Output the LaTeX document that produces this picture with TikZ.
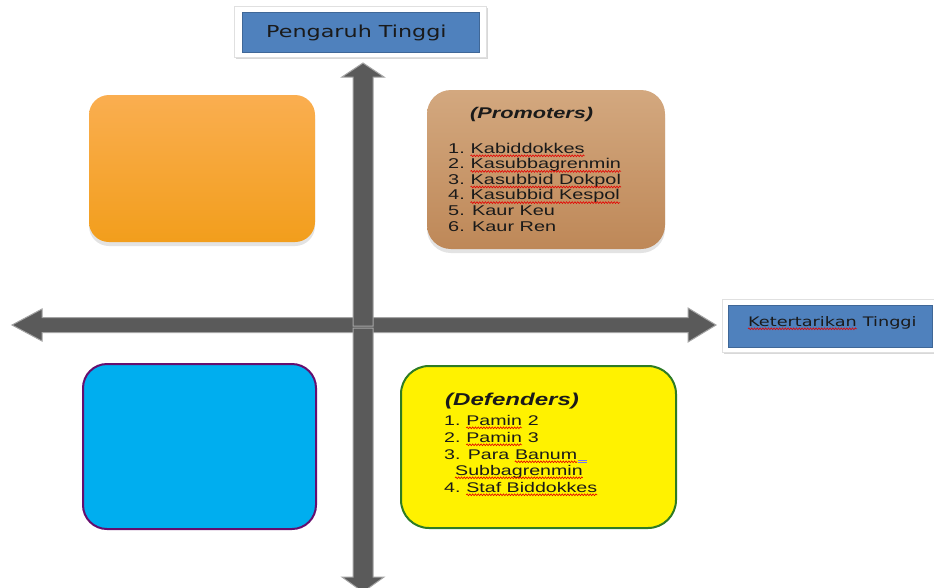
\documentclass[tikz,border=0pt]{standalone}
\usepackage{fontspec}
\usetikzlibrary{shadows,decorations.pathmorphing}
\newfontfamily\arialw[FakeStretch=1.4]{Liberation Sans}
\newfontfamily\verdw[FakeStretch=1.35]{DejaVu Sans}
\definecolor{arrowgray}{HTML}{5A5A5A}
\definecolor{labelblue}{HTML}{4F81BD}
\definecolor{orangetop}{HTML}{FAAE50}
\definecolor{orangebot}{HTML}{F29E1C}
\definecolor{tantop}{HTML}{D3A87F}
\definecolor{tanbot}{HTML}{BE8858}
\definecolor{cyanbox}{HTML}{00AEEF}
\definecolor{purpleedge}{HTML}{660E6E}
\definecolor{greenedge}{HTML}{2E7B24}
\definecolor{txt}{HTML}{1A1A1A}
\tikzset{
  axis/.style={fill=arrowgray, draw=arrowgray!55!white, line width=1pt, line join=miter},
  softshadow/.style={drop shadow={shadow xshift=0pt, shadow yshift=-4pt, opacity=0.22}},
  frameshadow/.style={drop shadow={shadow xshift=1.5pt, shadow yshift=-2pt, opacity=0.3}},
  lst/.style={anchor=base west, inner sep=0pt, text=txt, font=\arialw\fontsize{14.2}{16}\selectfont},
  lstd/.style={anchor=base west, inner sep=0pt, text=txt, font=\arialw\fontsize{14}{16}\selectfont},
  ttl/.style={anchor=base west, inner sep=0pt, text=txt, font=\arialw\bfseries\itshape\fontsize{15.5}{18}\selectfont},
  lbl/.style={anchor=base west, inner sep=0pt, text=txt, font=\verdw\fontsize{16.5}{18}\selectfont},
  wavy/.style={draw=red!90!black, line width=0.6pt, decorate, decoration={snake, amplitude=0.9pt, segment length=2.8pt}}
}
\newcommand\wavyunder[1]{\draw[wavy] ([yshift=-2.8pt]#1.base west) -- ([yshift=-2.8pt]#1.base east);}
\begin{document}
\begin{tikzpicture}[x=1pt,y=-1pt]
\useasboundingbox (0,0) rectangle (934,587);
\fill[white] (0,0) rectangle (934,587);

% horizontal axis (double headed)
\path[axis] (42,317.5) -- (688,317.5) -- (688,308) -- (716,325) -- (688,342) -- (688,332.5)
   -- (42,332.5) -- (42,341) -- (12,325) -- (42,309) -- cycle;
% vertical axis: up and down arrows
\path[axis] (353,326) -- (353,77) -- (342,77) -- (363,63) -- (384,77) -- (373,77) -- (373,326) -- cycle;
\path[axis] (353,328) -- (353,577) -- (342,577) -- (363,592) -- (384,577) -- (373,577) -- (373,328) -- cycle;

% label box: Pengaruh Tinggi
\path[fill=white, draw=black!12, frameshadow] (234,6) rectangle (486,57);
\path[fill=labelblue, draw=labelblue!80!black, line width=0.6pt] (242,12) rectangle (479,52);
\node[lbl] (pt) at (266,37) {Pengaruh Tinggi};

% label box: Ketertarikan Tinggi
\path[fill=white, draw=black!12, frameshadow] (722,299) rectangle (942,352);
\path[fill=labelblue, draw=labelblue!80!black, line width=0.6pt] (728,305) rectangle (932,347);
\node[lbl, font=\verdw\fontsize{13.1}{16}\selectfont] (kt1) at (748,326) {Ketertarikan};
\node[lbl, font=\verdw\fontsize{13.1}{16}\selectfont] (kt2) at (kt1.base east) {\ Tinggi};
\wavyunder{kt1}

% quadrant boxes
\path[rounded corners=20pt, top color=orangetop, bottom color=orangebot, softshadow] (89,95) rectangle (315,242);
\path[rounded corners=24pt, top color=tantop, bottom color=tanbot, softshadow] (427,90) rectangle (665,249);
\path[rounded corners=24pt, fill=cyanbox, draw=purpleedge, line width=2pt] (83,364) rectangle (316,529);
\path[rounded corners=28pt, fill=yellow, draw=greenedge, line width=2pt] (401,366) rectangle (676,528);

% Promoters
\node[ttl] (p0) at (470,118) {(Promoters)};
\node[lst] (p1) at (448,153) {1.\ \null};
\node[lst] (p1w) at (p1.base east) {Kabiddokkes};
\node[lst] (p2) at (448,168.6) {2.\ \null};
\node[lst] (p2w) at (p2.base east) {Kasubbagrenmin};
\node[lst] (p3) at (448,184.2) {3.\ \null};
\node[lst] (p3w) at (p3.base east) {Kasubbid Dokpol};
\node[lst] (p4) at (448,199.8) {4.\ \null};
\node[lst] (p4w) at (p4.base east) {Kasubbid Kespol};
\node[lst] (p5) at (448,215.4) {5. Kaur Keu};
\node[lst] (p6) at (448,231) {6. Kaur Ren};
\wavyunder{p1w}
\wavyunder{p2w}
\wavyunder{p3w}
\wavyunder{p4w}

% Defenders
\node[ttl, font=\arialw\bfseries\itshape\fontsize{17.2}{20}\selectfont] (d0) at (445,405) {(Defenders)};
\node[lstd] (d1) at (444,425) {1.\ \null};
\node[lstd] (d1w) at (d1.base east) {Pamin};
\node[lstd] (d1s) at (d1w.base east) {\ 2};
\node[lstd] (d2) at (444,442) {2.\ \null};
\node[lstd] (d2w) at (d2.base east) {Pamin};
\node[lstd] (d2s) at (d2w.base east) {\ 3};
\node[lstd] (d3) at (444,459) {3. Para\ \null};
\node[lstd] (d3w) at (d3.base east) {Banum};
\node[lstd] (d4w) at (455,475) {Subbagrenmin};
\node[lstd] (d5) at (444,492) {4.\ \null};
\node[lstd] (d5w) at (d5.base east) {Staf Biddokkes};
\wavyunder{d1w}
\wavyunder{d2w}
\wavyunder{d3w}
\wavyunder{d4w}
\wavyunder{d5w}
\draw[blue!55, line width=0.5pt] ([xshift=1pt,yshift=-1.5pt]d3w.base east) -- ++(9pt,0pt);
\draw[blue!55, line width=0.5pt] ([xshift=1pt,yshift=-3pt]d3w.base east) -- ++(9pt,0pt);
\end{tikzpicture}
\end{document}
